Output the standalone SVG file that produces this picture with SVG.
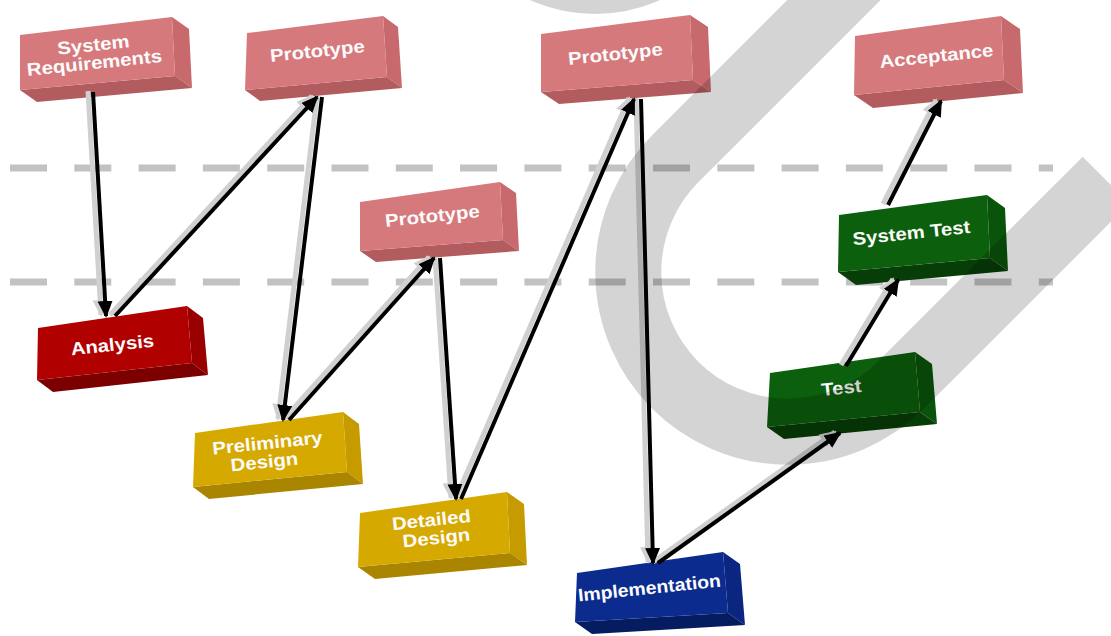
<svg xmlns="http://www.w3.org/2000/svg" width="1111" height="636" viewBox="0 0 1111 636">
  <defs>
    <style>
      .dash{fill:none;stroke:#c2c2c2;stroke-width:7;stroke-dasharray:37 27.3}
      .pink .f{fill:#d6797c}.pink .r{fill:#c86a6d}.pink .b{fill:#b35c5f}
      .red .f{fill:#b10000}.red .r{fill:#990000}.red .b{fill:#7c0000}
      .gold .f{fill:#d6a900}.gold .r{fill:#c59b00}.gold .b{fill:#a98500}
      .blue .f{fill:#0b2c8e}.blue .r{fill:#0a2680}.blue .b{fill:#061c60}
      .green .f{fill:#0c5f0c}.green .r{fill:#0a530a}.green .b{fill:#073e07}
      .t{font-family:"Liberation Sans",Arial,sans-serif;font-weight:bold;font-size:18px;fill:#fbfbfb;text-anchor:middle}
      .hl{fill:none;stroke:#d0d0d0;stroke-width:5;marker-end:url(#headGray)}
      .ar{fill:none;stroke:#000;stroke-width:4;marker-end:url(#head)}
      .mark{fill:none;stroke:#000;stroke-opacity:.17;stroke-width:66}
    </style>
    <marker id="head" markerUnits="userSpaceOnUse" markerWidth="17" markerHeight="15" viewBox="0 0 17 15" refX="15" refY="7.5" orient="auto">
      <path d="M0,0 L17,7.5 L0,15 z" fill="#000"/>
    </marker>
    <marker id="headGray" markerUnits="userSpaceOnUse" markerWidth="17" markerHeight="15" viewBox="0 0 17 15" refX="15" refY="7.5" orient="auto">
      <path d="M0,0 L17,7.5 L0,15 z" fill="#d0d0d0"/>
    </marker>
  </defs>

  <rect width="1111" height="636" fill="#fff"/>

  <!-- phase separators -->
  <g id="separators">
    <line class="dash" x1="10" y1="168" x2="1053" y2="168"/>
    <line class="dash" x1="10" y1="282" x2="1053" y2="282"/>
  </g>

  <!-- nodes: front face, right side, underside, label -->
  <g id="n-sysreq" class="pink">
    <polygon class="r" points="172,17 189,29 192,88 175,76"/>
    <polygon class="b" points="20,90 175,76 192,88 37,102"/>
    <polygon class="f" points="20,35 172,17 175,76 20,90"/>
    <text class="t" transform="translate(94,51) rotate(-6) scale(1.13,1)">System</text>
    <text class="t" transform="translate(95,69) rotate(-6) scale(1.13,1)">Requirements</text>
  </g>

  <g id="n-proto1" class="pink">
    <polygon class="r" points="383,16 398,27 402,88 387,77"/>
    <polygon class="b" points="245,90 387,77 402,88 260,101"/>
    <polygon class="f" points="247,33 383,16 387,77 245,90"/>
    <text class="t" transform="translate(318,57) rotate(-6) scale(1.13,1)">Prototype</text>
  </g>

  <g id="n-proto2" class="pink">
    <polygon class="r" points="500,182 516,193 519,251 503,240"/>
    <polygon class="b" points="360,251 503,240 519,251 376,262"/>
    <polygon class="f" points="360,202 500,182 503,240 360,251"/>
    <text class="t" transform="translate(433,222) rotate(-6) scale(1.13,1)">Prototype</text>
  </g>

  <g id="n-proto3" class="pink">
    <polygon class="r" points="690,15 708,27 711,92 693,80"/>
    <polygon class="b" points="541,92 693,80 711,92 559,104"/>
    <polygon class="f" points="541,34 690,15 693,80 541,92"/>
    <text class="t" transform="translate(616,60) rotate(-6) scale(1.13,1)">Prototype</text>
  </g>

  <g id="n-accept" class="pink">
    <polygon class="r" points="1001,16 1020,29 1023,93 1004,80"/>
    <polygon class="b" points="854,95 1004,80 1023,93 873,108"/>
    <polygon class="f" points="855,36 1001,16 1004,80 854,95"/>
    <text class="t" transform="translate(937,62) rotate(-6) scale(1.13,1)">Acceptance</text>
  </g>

  <g id="n-analysis" class="red">
    <polygon class="r" points="187,306 203,318 208,375 192,363"/>
    <polygon class="b" points="37,380 192,363 208,375 53,392"/>
    <polygon class="f" points="38,328 187,306 192,363 37,380"/>
    <text class="t" transform="translate(113,351) rotate(-6) scale(1.13,1)">Analysis</text>
  </g>

  <g id="n-prelim" class="gold">
    <polygon class="r" points="343,412 359,424 363,484 347,472"/>
    <polygon class="b" points="193,487 347,472 363,484 209,499"/>
    <polygon class="f" points="195,433 343,412 347,472 193,487"/>
    <text class="t" transform="translate(268,449) rotate(-6) scale(1.13,1)">Preliminary</text>
    <text class="t" transform="translate(265,468) rotate(-6) scale(1.13,1)">Design</text>
  </g>

  <g id="n-detailed" class="gold">
    <polygon class="r" points="507,492 524,504 527,565 510,553"/>
    <polygon class="b" points="358,567 510,553 527,565 375,579"/>
    <polygon class="f" points="360,513 507,492 510,553 358,567"/>
    <text class="t" transform="translate(432,526) rotate(-6) scale(1.13,1)">Detailed</text>
    <text class="t" transform="translate(437,544) rotate(-6) scale(1.13,1)">Design</text>
  </g>

  <g id="n-impl" class="blue">
    <polygon class="r" points="723,552 740,564 745,625 728,613"/>
    <polygon class="b" points="575,622 728,613 745,625 592,634"/>
    <polygon class="f" points="577,573 723,552 728,613 575,622"/>
    <text class="t" transform="translate(650,594) rotate(-6) scale(1.08,1)">Implementation</text>
  </g>

  <g id="n-test" class="green">
    <polygon class="r" points="915,352 932,364 937,424 920,412"/>
    <polygon class="b" points="767,427 920,412 937,424 784,439"/>
    <polygon class="f" points="770,373 915,352 920,412 767,427"/>
    <text class="t" transform="translate(842,394) rotate(-6) scale(1.13,1)">Test</text>
  </g>

  <g id="n-systest" class="green">
    <polygon class="r" points="987,195 1005,208 1008,271 990,258"/>
    <polygon class="b" points="838,272 990,258 1008,271 856,285"/>
    <polygon class="f" points="839,215 987,195 990,258 838,272"/>
    <text class="t" transform="translate(912,239) rotate(-6) scale(1.13,1)">System Test</text>
  </g>

  <!-- flow arrows: light offset copy beneath a black arrow -->
  <g id="connectors">
    <g transform="translate(-5,-1)">
      <path class="hl" d="M93,92 L106,316"/>
      <path class="hl" d="M115,316 L317,97"/>
      <path class="hl" d="M322,97 L283,420"/>
      <path class="hl" d="M289,420 L434,258"/>
      <path class="hl" d="M440,258 L456,499"/>
      <path class="hl" d="M461,499 L634,99"/>
      <path class="hl" d="M641,99 L653,563"/>
      <path class="hl" d="M658,563 L840,433"/>
      <path class="hl" d="M846,366 L898,280"/>
      <path class="hl" d="M888,205 L941,101"/>
    </g>
    <path class="ar" d="M93,92 L106,316"/>
    <path class="ar" d="M115,316 L317,97"/>
    <path class="ar" d="M322,97 L283,420"/>
    <path class="ar" d="M289,420 L434,258"/>
    <path class="ar" d="M440,258 L456,499"/>
    <path class="ar" d="M461,499 L634,99"/>
    <path class="ar" d="M641,99 L653,563"/>
    <path class="ar" d="M658,563 L840,433"/>
    <path class="ar" d="M846,366 L898,280"/>
    <path class="ar" d="M888,205 L941,101"/>
  </g>

  <!-- translucent grey emblem laid over the chart -->
  <g id="emblem">
    <circle cx="595" cy="-144" r="158" fill="#000" fill-opacity=".17"/>
    <path class="mark" d="M925,-91 L675,159 A160,160 0 0 0 675,385 A160,160 0 0 0 901,385 L1106,180"/>
  </g>
</svg>
